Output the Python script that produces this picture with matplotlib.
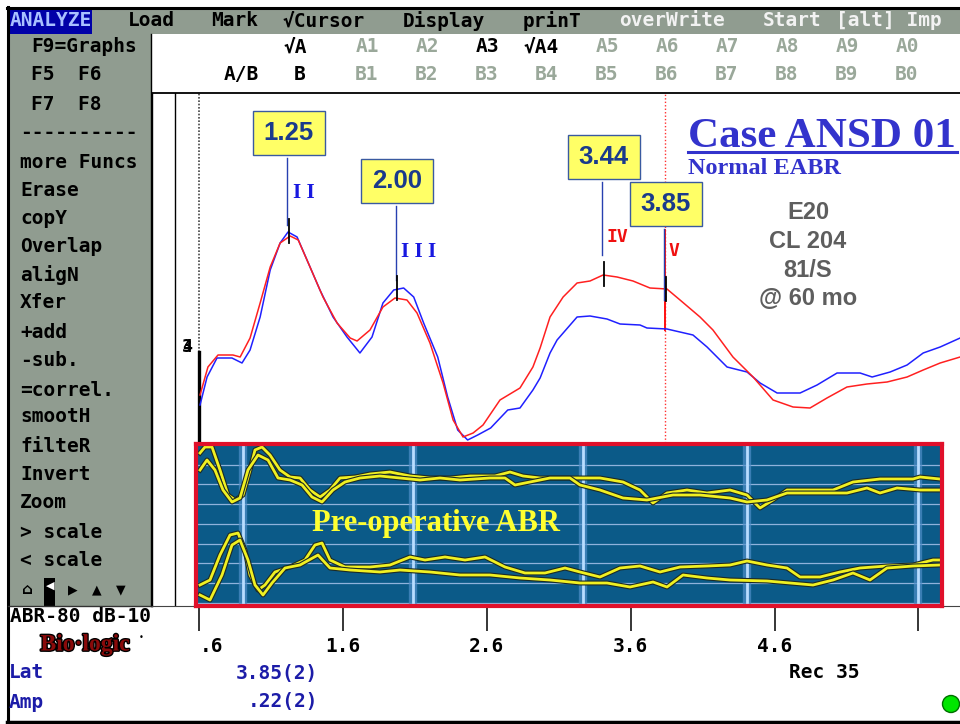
import numpy as np
import matplotlib.pyplot as plt
import matplotlib.patches as mpatches
import matplotlib.patheffects as pe

# ---- EABR waveforms (latency in ms, amplitude in arbitrary units) ----
blue_lat = [0.605, 0.654, 0.723, 0.827, 0.897, 0.953, 1.023, 1.093, 1.162, 1.217,
            1.280, 1.349, 1.439, 1.530, 1.627, 1.717, 1.801, 1.877, 1.952, 2.021,
            2.091, 2.160, 2.258, 2.327, 2.397, 2.466, 2.536, 2.626, 2.745, 2.830,
            2.920, 2.970, 3.039, 3.088, 3.227, 3.317, 3.435, 3.526, 3.665, 3.713,
            3.852, 4.033, 4.131, 4.270, 4.409, 4.500, 4.618, 4.778, 4.896, 5.035,
            5.195, 5.279, 5.404, 5.522, 5.634, 5.752, 5.891]
blue_amp = [0.35, 0.63, 0.82, 0.82, 0.77, 0.90, 1.23, 1.70, 1.97, 2.08,
            2.03, 1.80, 1.50, 1.23, 1.03, 0.87, 1.03, 1.37, 1.50, 1.52,
            1.43, 1.17, 0.83, 0.43, 0.10, 0.00, 0.05, 0.12, 0.30, 0.32,
            0.50, 0.62, 0.87, 1.00, 1.23, 1.24, 1.21, 1.16, 1.15, 1.12,
            1.11, 1.05, 0.93, 0.73, 0.68, 0.57, 0.47, 0.47, 0.55, 0.67,
            0.67, 0.63, 0.68, 0.75, 0.87, 0.93, 1.02]

red_lat = [0.605, 0.660, 0.730, 0.834, 0.884, 0.953, 1.023, 1.093, 1.162, 1.232,
           1.288, 1.370, 1.460, 1.558, 1.649, 1.697, 1.787, 1.877, 1.961, 2.044,
           2.114, 2.204, 2.295, 2.365, 2.434, 2.504, 2.573, 2.691, 2.830, 2.920,
           2.970, 3.039, 3.130, 3.227, 3.317, 3.408, 3.505, 3.616, 3.734, 3.852,
           3.943, 4.082, 4.172, 4.311, 4.451, 4.590, 4.729, 4.847, 4.965, 5.104,
           5.243, 5.383, 5.522, 5.634, 5.752, 5.891]
red_amp = [0.45, 0.73, 0.85, 0.85, 0.83, 1.02, 1.37, 1.73, 1.97, 2.04,
           2.00, 1.73, 1.43, 1.17, 1.02, 0.99, 1.10, 1.33, 1.42, 1.40,
           1.27, 0.97, 0.57, 0.20, 0.03, 0.07, 0.15, 0.40, 0.52, 0.73,
           0.92, 1.23, 1.43, 1.57, 1.59, 1.65, 1.63, 1.59, 1.52, 1.51,
           1.40, 1.23, 1.10, 0.83, 0.63, 0.40, 0.33, 0.32, 0.42, 0.53,
           0.56, 0.58, 0.63, 0.70, 0.77, 0.83]

peak_names = ["II", "III", "IV", "V"]
peak_labels = ["1.25", "2.00", "3.44", "3.85"]
peak_lat = [1.222, 1.975, 3.412, 3.845]
peak_amp = [2.09, 1.52, 1.66, 1.51]
peak_colors = ["#1818e0", "#1818e0", "#f01010", "#f01010"]
cursor_lat = 3.838

xtick_pos = [0.6, 1.6, 2.6, 3.6, 4.6, 5.6]
xtick_lab = [".6", "1.6", "2.6", "3.6", "4.6", ""]

# ---- pre-operative ABR (inset screen units) ----
pre1_x = [4, 9, 16, 24, 32, 39, 47, 54, 59, 66, 74, 84, 94, 104, 114, 124, 134, 144, 159, 174,
          194, 214, 234, 254, 274, 299, 314, 327, 344, 364, 384, 404, 427, 444, 457, 471, 491,
          511, 534, 551, 564, 577, 591, 617, 637, 657, 684, 717, 724, 744]
pre1_y = [153, 159, 159, 136, 111, 106, 111, 136, 156, 159, 151, 136, 129, 128, 116, 109, 116,
          128, 129, 132, 134, 130, 128, 128, 130, 130, 134, 130, 128, 128, 128, 128, 124, 116,
          103, 113, 116, 113, 116, 111, 98, 106, 116, 116, 116, 124, 127, 127, 129, 127]
pre2_x = [4, 11, 19, 27, 36, 44, 52, 62, 72, 82, 94, 106, 116, 126, 137, 149, 164, 184, 204,
          224, 244, 264, 294, 309, 319, 334, 354, 374, 384, 404, 427, 451, 477, 504, 534, 551,
          571, 591, 617, 651, 671, 684, 701, 724, 744]
pre2_y = [136, 146, 136, 116, 104, 108, 136, 151, 146, 128, 126, 121, 109, 104, 116, 124, 128,
          130, 128, 126, 128, 126, 128, 128, 121, 124, 128, 128, 121, 116, 108, 106, 111, 111,
          108, 104, 106, 113, 113, 113, 118, 113, 118, 116, 116]
pre3_x = [4, 14, 24, 34, 42, 49, 54, 62, 69, 79, 94, 109, 119, 126, 134, 149, 174, 194, 214,
          229, 249, 269, 289, 309, 329, 349, 369, 384, 404, 424, 444, 464, 484, 511, 534, 551,
          571, 591, 604, 624, 644, 664, 691, 717, 737, 744]
pre3_y = [21, 26, 51, 71, 73, 56, 31, 16, 21, 34, 39, 46, 61, 63, 46, 39, 39, 41, 49, 46, 49,
          46, 49, 39, 33, 33, 38, 34, 29, 38, 40, 34, 39, 40, 41, 45, 41, 38, 29, 29, 34, 38,
          40, 41, 46, 46]
pre4_x = [4, 14, 26, 36, 44, 52, 59, 67, 76, 89, 104, 122, 134, 154, 184, 204, 234, 264, 294,
          324, 354, 384, 411, 434, 457, 471, 487, 511, 534, 571, 594, 617, 637, 657, 674, 691,
          717, 744]
pre4_y = [11, 6, 31, 61, 66, 46, 21, 11, 23, 38, 41, 51, 38, 36, 34, 36, 34, 31, 31, 28, 26,
          23, 23, 19, 24, 19, 31, 28, 26, 25, 23, 21, 26, 33, 26, 38, 40, 41]
pre_hlines = [141, 122, 102, 82, 62, 43, 23, 3]
pre_vbars = [47, 217, 387, 551, 722]

# ---- screen text ----
menu_items = ["ANALYZE", "Load", "Mark", "\u221aCursor", "Display", "prinT",
              "overWrite", "Start", "[alt] Imp"]
side_items = ["F9=Graphs", "F5  F6", "F7  F8", "----------", "more Funcs", "Erase",
              "copY", "Overlap", "aligN", "Xfer", "+add", "-sub.", "=correl.", "smootH",
              "filteR", "Invert", "Zoom", "> scale", "< scale"]
row_a = ["\u221aA", "A1", "A2", "A3", "\u221aA4", "A5", "A6", "A7", "A8", "A9", "A0"]
row_b = ["A/B", "B", "B1", "B2", "B3", "B4", "B5", "B6", "B7", "B8", "B9", "B0"]
active = {"\u221aA", "A3", "\u221aA4", "A/B", "B"}
info_lines = ["E20", "CL 204", "81/S", "@ 60 mo"]

DOS = "DejaVu Sans Mono"
W = "bold"
PANEL = "#909c90"
INACT = "#9aa89a"

fig = plt.figure(figsize=(9.6, 7.24), dpi=100)
fig.patch.set_facecolor("white")

# background (pixel coordinates)
bg = fig.add_axes([0, 0, 1, 1])
bg.set_xlim(0, 960)
bg.set_ylim(724, 0)
bg.axis("off")
bg.set_zorder(0)
bg.add_patch(mpatches.Rectangle((9, 9), 951, 25, color=PANEL, lw=0))
bg.add_patch(mpatches.Rectangle((9, 9), 83, 25, color="#0000a8", lw=0))
bg.add_patch(mpatches.Rectangle((9, 34), 142, 572, color=PANEL, lw=0))
bg.plot([7, 960], [7.5, 7.5], color="black", lw=2.2)
bg.plot([7.5, 7.5], [7, 722], color="black", lw=2.2)
bg.plot([7, 960], [721.5, 721.5], color="black", lw=2.5)
bg.plot([151, 151], [34, 606], color="black", lw=1)
bg.plot([8, 152], [606, 606], color="#333333", lw=1)
bg.add_patch(mpatches.Rectangle((44, 578), 11, 28, color="black", lw=0))

# main waveform axes
ax = fig.add_axes([152 / 960, 118 / 724, 808 / 960, 513 / 724])
ax.set_zorder(1)
ax.set_facecolor("none")
ax.set_xlim(0.271, 5.890)
ax.set_ylim(-1.66, 3.47)
ax.set_yticks([])
ax.spines["right"].set_visible(False)
ax.spines["left"].set_linewidth(1)
ax.spines["top"].set_linewidth(1.3)
ax.spines["bottom"].set_color("#444444")
ax.set_xticks(xtick_pos)
ax.set_xticklabels(xtick_lab, fontfamily=DOS, fontsize=14, fontweight=W)
ax.get_xticklabels()[0].set_horizontalalignment("left")
ax.tick_params(axis="x", direction="out", length=18, width=1.1, pad=4, color="black")

ax.axvline(0.431, color="black", lw=1)
ax.plot([0.6, 0.6], [0.88, 3.47], color="#444444", lw=1.2, ls=(0, (1, 1)))
ax.plot([0.6, 0.6], [-0.1, 0.88], color="black", lw=2.4)
ax.text(0.514, 0.93, "3", fontfamily=DOS, fontweight="bold", fontsize=12, ha="center", va="center")
ax.text(0.514, 0.93, "4", fontfamily=DOS, fontweight="bold", fontsize=12, ha="center", va="center")

ax.axvline(cursor_lat, color="#ff3030", lw=1, ls=(0, (1, 1.5)))
ax.plot([cursor_lat, cursor_lat], [1.10, 2.10], color="#ff1010", lw=1.4)

ax.plot(blue_lat, blue_amp, color="#2020ff", lw=1.1)
ax.plot(red_lat, red_amp, color="#ff2020", lw=1.1)

box_amp = [3.07, 2.59, 2.83, 2.36]
name_amp = [2.47, 1.88, 2.03, 1.89]
link_bottom = [2.15, 1.60, 1.85, 1.40]
for i in range(4):
    x = peak_lat[i]
    ax.plot([x, x], [peak_amp[i] - 0.12, peak_amp[i] + 0.12], color="black", lw=1.3, zorder=5)
    ax.plot([x - 0.01, x - 0.01], [box_amp[i] - 0.25, link_bottom[i]], color="#2840b0", lw=1, zorder=4)
    ax.add_patch(mpatches.Rectangle((x - 0.25, box_amp[i] - 0.215), 0.5, 0.43,
                                    facecolor="#ffff66", edgecolor="#3a5aa0", lw=1, zorder=6))
    ax.text(x, box_amp[i], peak_labels[i], ha="center", va="center", fontsize=18.5,
            fontweight="bold", family="Liberation Sans", color="#1a3a8c", zorder=7)
    if i < 2:
        ax.text(x + 0.03, name_amp[i], " ".join(peak_names[i]), ha="left", va="center",
                fontsize=15, fontweight="bold", family="Liberation Serif",
                color=peak_colors[i], zorder=7)
    else:
        ax.text(x + 0.02, name_amp[i], peak_names[i], ha="left", va="center",
                fontsize=13, fontweight="bold", family=DOS, color=peak_colors[i], zorder=7)

# pre-operative ABR inset
ins = fig.add_axes([196 / 960, 118 / 724, 746 / 960, 162 / 724])
ins.set_zorder(2)
ins.set_xlim(0, 746)
ins.set_ylim(0, 162)
ins.set_xticks([])
ins.set_yticks([])
ins.set_facecolor("#0b5a88")
for s in ins.spines.values():
    s.set_color("#e0102a")
    s.set_linewidth(3)
for y in pre_hlines:
    ins.axhline(y, color="#8fb2dc", lw=0.9)
for x in pre_vbars:
    ins.axvline(x, color="#4f8ec8", lw=6, alpha=0.7)
    ins.axvline(x, color="#b8dcff", lw=2)
glow = [pe.Stroke(linewidth=3.6, foreground="#1d2a24"), pe.Normal()]
for xs, ys in [(pre1_x, pre1_y), (pre2_x, pre2_y), (pre3_x, pre3_y), (pre4_x, pre4_y)]:
    ins.plot(xs, ys, color="#f0f022", lw=2.0, path_effects=glow, solid_joinstyle="round")
ins.text(240, 83, "Pre-operative ABR", ha="center", va="center", fontsize=22,
         fontweight="bold", family="Liberation Serif", color="#ffff30")

# overlay text (pixel coordinates)
ov = fig.add_axes([0, 0, 1, 1])
ov.set_xlim(0, 960)
ov.set_ylim(724, 0)
ov.axis("off")
ov.set_zorder(3)
ov.patch.set_alpha(0)

menu_x = [10, 128, 211, 283, 403, 523, 619, 763, 836]
for i, (lab, x) in enumerate(zip(menu_items, menu_x)):
    col = "#a8c0ff" if i == 0 else ("black" if i < 6 else "#f2f2f2")
    ov.text(x, 21, lab, fontfamily=DOS, fontsize=14, fontweight=W, color=col,
            va="center", ha="left", clip_on=True)

side_y = [47, 75, 104, 133, 162, 190, 218, 247, 275, 303, 332, 361, 390, 417, 446, 474,
          503, 532, 561]
for lab, y in zip(side_items, side_y):
    x = 31 if y < 110 else 20
    ov.text(x, y, lab, fontfamily=DOS, fontsize=14, fontweight=W, color="black",
            va="center", ha="left")
ov.text(27, 590, "\u2302", fontfamily="DejaVu Sans", fontsize=11, fontweight=W, ha="center", va="center")
ov.text(50, 586, "\u25c0", fontfamily="DejaVu Sans", fontsize=8, color="white", ha="center", va="center")
ov.text(73, 590, "\u25b6", fontfamily="DejaVu Sans", fontsize=9, ha="center", va="center")
ov.text(97, 590, "\u25b2", fontfamily="DejaVu Sans", fontsize=9, ha="center", va="center")
ov.text(121, 590, "\u25bc", fontfamily="DejaVu Sans", fontsize=9, ha="center", va="center")

row_a_x = [295, 367, 427, 487, 541, 607, 667, 727, 787, 847, 907]
for lab, x in zip(row_a, row_a_x):
    ov.text(x, 47, lab, fontfamily=DOS, fontsize=14, fontweight=W, ha="center", va="center",
            color="black" if lab in active else INACT)
row_b_x = [241, 300, 367, 427, 487, 547, 607, 667, 727, 787, 847, 907]
for lab, x in zip(row_b, row_b_x):
    ov.text(x, 75, lab, fontfamily=DOS, fontsize=14, fontweight=W, ha="center", va="center",
            color="black" if lab in active else INACT)

ov.text(688, 147, "Case ANSD 01", family="Liberation Serif", fontweight="bold", fontsize=31,
        color="#3333cc", ha="left", va="baseline")
ov.plot([688, 957], [151.5, 151.5], color="#3333cc", lw=2.2)
ov.text(688, 174, "Normal EABR", family="Liberation Serif", fontweight="bold", fontsize=17.5,
        color="#3333cc", ha="left", va="baseline")
for lab, y in zip(info_lines, [219, 248, 277, 305]):
    ov.text(808, y, lab, family="Liberation Sans", fontweight="bold", fontsize=17,
            color="#5e5e5e", ha="center", va="baseline")

ov.text(10, 617, "ABR-80 dB-10", fontfamily=DOS, fontsize=14, fontweight=W, va="center", ha="left")
ov.text(85, 645, "Bio\u00b7logic", family="Liberation Serif", fontweight="bold", fontsize=17,
        color="#8a0a0a", ha="center", va="center",
        path_effects=[pe.Stroke(linewidth=2, foreground="black"), pe.Normal()])
ov.text(141, 638, "\u2022", fontsize=6, ha="center", va="center")
ov.text(9, 673, "Lat", fontfamily=DOS, fontsize=14, fontweight=W, color="#1c1ca8", va="center", ha="left")
ov.text(9, 702, "Amp", fontfamily=DOS, fontsize=14, fontweight=W, color="#1c1ca8", va="center", ha="left")
ov.text(318, 673, "3.85(2)", fontfamily=DOS, fontsize=14, fontweight=W, color="#1c1ca8", va="center", ha="right")
ov.text(318, 702, ".22(2)", fontfamily=DOS, fontsize=14, fontweight=W, color="#1c1ca8", va="center", ha="right")
ov.text(789, 673, "Rec 35", fontfamily=DOS, fontsize=14, fontweight=W, color="black", va="center", ha="left")
ov.add_patch(mpatches.Circle((951, 704), 8.5, facecolor="#00e600", edgecolor="#007000", lw=1))

plt.savefig("out.png", dpi=100)
